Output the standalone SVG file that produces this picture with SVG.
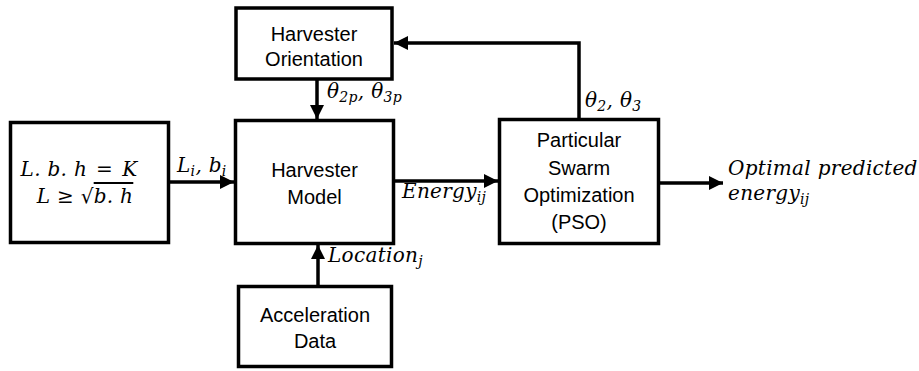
<svg xmlns="http://www.w3.org/2000/svg" width="919" height="371" viewBox="0 0 919 371">
<defs>
<marker id="ah" viewBox="0 0 10 10" refX="10" refY="5" markerWidth="4" markerHeight="4" markerUnits="strokeWidth" orient="auto">
<path d="M0,0 L10,5 L0,10 z" fill="#000"/>
</marker>
<style>
.box{fill:#fff;stroke:#000;stroke-width:3.5}
.lbl{font-family:"Liberation Sans",Arial,sans-serif;font-size:20px;fill:#000;text-anchor:middle}
.math{font-family:"DejaVu Serif","Liberation Serif",serif;font-style:italic;font-size:20px;letter-spacing:0.3px;fill:#000}
.sub{font-size:14px}
.conn{fill:none;stroke:#000;stroke-width:3.5;marker-end:url(#ah)}
</style>
</defs>
<rect width="919" height="371" fill="#fff"/>
<g id="constraints">
<rect class="box" x="10.5" y="122.5" width="158" height="120"/>
<text class="math" x="79" y="176" text-anchor="middle">L. b. h<tspan dx="9">=</tspan><tspan dx="9">K</tspan></text>
<text class="math" x="85" y="203" text-anchor="middle">L ≥ √<tspan text-decoration="overline">b. h</tspan></text>
</g>
<g id="orientation">
<rect class="box" x="236" y="8" width="156" height="71"/>
<text class="lbl" x="314" y="41">Harvester</text>
<text class="lbl" x="314" y="66">Orientation</text>
</g>
<g id="model">
<rect class="box" x="235.5" y="120.5" width="158" height="123"/>
<text class="lbl" x="314.5" y="177">Harvester</text>
<text class="lbl" x="314.5" y="204">Model</text>
</g>
<g id="pso">
<rect class="box" x="499.5" y="119.5" width="159" height="124"/>
<text class="lbl" x="579" y="147">Particular</text>
<text class="lbl" x="579" y="175">Swarm</text>
<text class="lbl" x="579" y="202">Optimization</text>
<text class="lbl" x="579" y="229">(PSO)</text>
</g>
<g id="acceleration">
<rect class="box" x="238.5" y="286.5" width="153" height="80"/>
<text class="lbl" x="315" y="322">Acceleration</text>
<text class="lbl" x="315" y="348">Data</text>
</g>
<g id="connectors">
<line class="conn" x1="168.5" y1="182" x2="234" y2="182"/>
<line class="conn" x1="317" y1="79" x2="317" y2="119"/>
<line class="conn" x1="393.5" y1="181" x2="498" y2="181"/>
<line class="conn" x1="658.5" y1="183" x2="723" y2="183"/>
<polyline class="conn" points="579,119.5 579,43 394,43"/>
<line class="conn" x1="318" y1="286.5" x2="318" y2="245"/>
<text class="math" x="177" y="172">L<tspan class="sub" dy="4">i</tspan><tspan dy="-4">, b</tspan><tspan class="sub" dy="4">i</tspan></text>
<text class="math" x="327" y="98">θ<tspan class="sub" dy="4">2p</tspan><tspan dy="-4">, θ</tspan><tspan class="sub" dy="4">3p</tspan></text>
<text class="math" x="402" y="198">Energy<tspan class="sub" dy="4">ij</tspan></text>
<text class="math" x="585" y="107">θ<tspan class="sub" dy="4">2</tspan><tspan dy="-4">, θ</tspan><tspan class="sub" dy="4">3</tspan></text>
<text class="math" x="728" y="175">Optimal predicted</text>
<text class="math" x="728" y="200">energy<tspan class="sub" dy="4">ij</tspan></text>
<text class="math" x="328" y="262">Location<tspan class="sub" dy="4">j</tspan></text>
</g>
</svg>
